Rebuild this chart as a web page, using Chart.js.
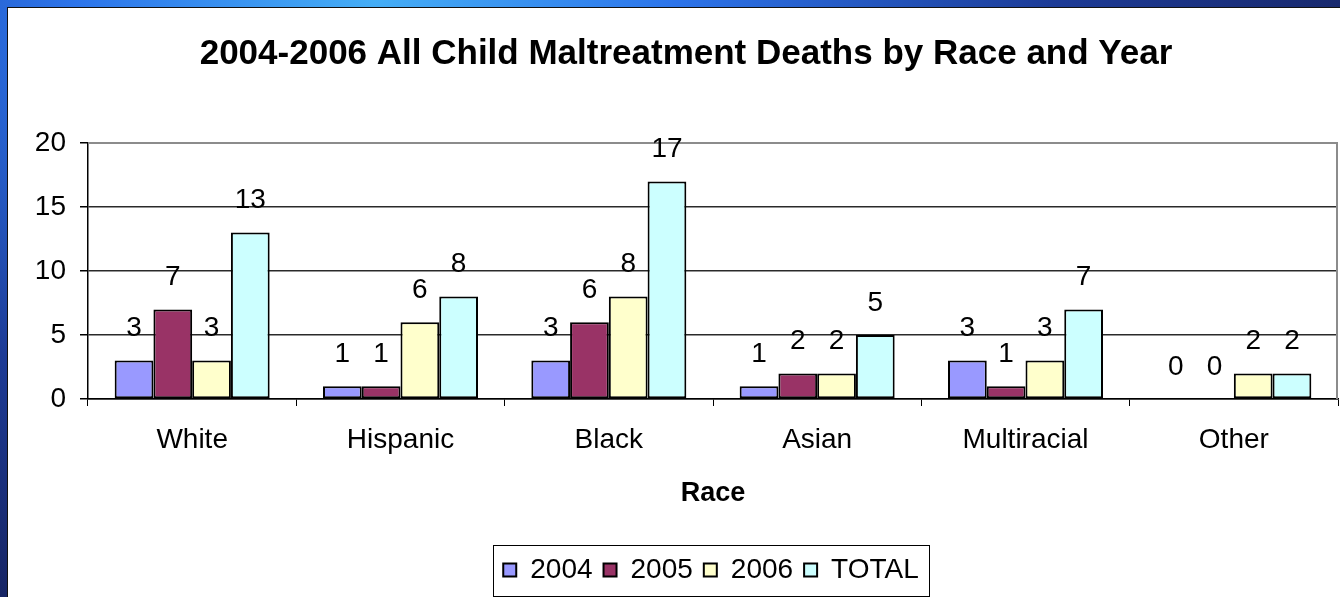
<!DOCTYPE html>
<html>
<head>
<meta charset="utf-8">
<script src="https://cdn.jsdelivr.net/npm/chart.js@4.4.1/dist/chart.umd.min.js"></script>
<style>
  html, body { margin: 0; padding: 0; width: 1340px; height: 597px; overflow: hidden; }
  body {
    background: radial-gradient(ellipse at 28% 0%, #45aef6 0%, #2c74ea 22%, #1d3b96 50%, #16215c 80%, #121a48 100%);
  }
  #frame {
    position: absolute; left: 7px; top: 7px; width: 1340px; height: 600px;
    background: #fff; border-left: 1px solid #111; border-top: 1px solid #111;
  }
  #chart { position: absolute; left: 0; top: 0; }
</style>
</head>
<body>
<div id="frame"><canvas id="chart" width="1332" height="590"></canvas></div>
<script>
const races = ['White', 'Hispanic', 'Black', 'Asian', 'Multiracial', 'Other'];
const deaths2004 = [3, 1, 3, 1, 3, 0];
const deaths2005 = [7, 1, 6, 2, 1, 0];
const deaths2006 = [3, 6, 8, 2, 3, 2];
const deathsTotal = [13, 8, 17, 5, 7, 2];
const yTicks = [0, 5, 10, 15, 20];

Chart.defaults.font.family = "'Liberation Sans', Arial, sans-serif";
Chart.defaults.color = '#000';

// value labels above each bar
const barLabels = {
    id: 'barLabels',
    afterDatasetsDraw(chart) {
        const ctx = chart.ctx;
        ctx.save();
        ctx.font = "28px 'Liberation Sans', Arial, sans-serif";
        ctx.fillStyle = '#000';
        ctx.textAlign = 'center';
        ctx.textBaseline = 'middle';
        chart.data.datasets.forEach((ds, i) => {
            chart.getDatasetMeta(i).data.forEach((bar, j) => {
                ctx.fillText(ds.data[j], bar.x, bar.y - 32);
            });
        });
        ctx.restore();
    }
};

// plot frame, shifted title/legend, legend border
const frame = {
    id: 'frame',
    afterLayout(chart) {
        const area = chart.chartArea;
        const lg = chart.legend;
        const shift = (area.left + area.right) / 2 - (lg.left + lg.right) / 2 - 2;
        lg.left += shift;
        lg.right += shift;
        chart.titleBlock.left += 13;
        chart.titleBlock.right += 13;
    },
    beforeDatasetsDraw(chart) {
        const {ctx, chartArea: a} = chart;
        ctx.save();
        ctx.strokeStyle = '#8c8c8c';
        ctx.lineWidth = 2;
        ctx.beginPath();
        ctx.moveTo(a.left, a.top);
        ctx.lineTo(a.right - 1, a.top);
        ctx.lineTo(a.right - 1, a.bottom);
        ctx.stroke();
        ctx.restore();
    },
    afterDraw(chart) {
        const boxes = chart.legend.legendHitBoxes;
        if (!boxes || !boxes.length) return;
        const left = Math.min(...boxes.map(b => b.left)) - 10;
        const right = Math.max(...boxes.map(b => b.left + b.width)) + 10;
        const cy = boxes[0].top + boxes[0].height / 2;
        const ctx = chart.ctx;
        ctx.save();
        ctx.strokeStyle = '#000';
        ctx.lineWidth = 1;
        ctx.strokeRect(Math.round(left) + 0.5, Math.round(cy - 25.5) + 0.5, Math.round(right - left), 51);
        ctx.restore();
    }
};

new Chart(document.getElementById('chart'), {
    type: 'bar',
    data: {
        labels: races,
        datasets: [
            { label: '2004', data: deaths2004, backgroundColor: '#9999ff' },
            { label: '2005', data: deaths2005, backgroundColor: '#993366' },
            { label: '2006', data: deaths2006, backgroundColor: '#ffffcc' },
            { label: 'TOTAL', data: deathsTotal, backgroundColor: '#ccffff' }
        ].map(d => Object.assign(d, { borderColor: '#000', borderWidth: 2, borderSkipped: false }))
    },
    options: {
        responsive: false,
        animation: false,
        devicePixelRatio: 1,
        layout: { padding: { top: 0, right: 2, bottom: 4, left: 0 } },
        datasets: { bar: { categoryPercentage: 0.744, barPercentage: 1 } },
        scales: {
            x: {
                grid: { drawOnChartArea: false, color: '#000', tickLength: 7, lineWidth: 1 },
                border: { color: '#000', width: 1.5 },
                ticks: { font: { size: 28 }, color: '#000', padding: 17, maxRotation: 0 },
                title: {
                    display: true, text: 'Race', color: '#000',
                    font: { size: 27, weight: 'bold' },
                    padding: { top: 4, bottom: 35 }
                }
            },
            y: {
                min: 0, max: 20,
                afterBuildTicks(scale) { scale.ticks = yTicks.map(v => ({ value: v })); },
                afterFit(scale) { scale.width = 80; },
                grid: {
                    color: c => (c.tick && c.tick.value === 20) ? 'rgba(0,0,0,0)' : '#2a2a2a',
                    lineWidth: 1.5,
                    tickColor: '#000',
                    tickLength: 8
                },
                border: { color: '#000', width: 1.5 },
                ticks: { font: { size: 28 }, color: '#000', padding: 14 }
            }
        },
        plugins: {
            title: {
                display: true,
                text: '2004-2006 All Child Maltreatment Deaths by Race and Year',
                color: '#000',
                font: { size: 35, weight: 'bold' },
                padding: { top: 25, bottom: 68 }
            },
            legend: {
                position: 'bottom',
                labels: { font: { size: 28 }, color: '#000', boxWidth: 13, boxHeight: 13, padding: 11 }
            },
            tooltip: { enabled: false }
        }
    },
    plugins: [barLabels, frame]
});
</script>
</body>
</html>
